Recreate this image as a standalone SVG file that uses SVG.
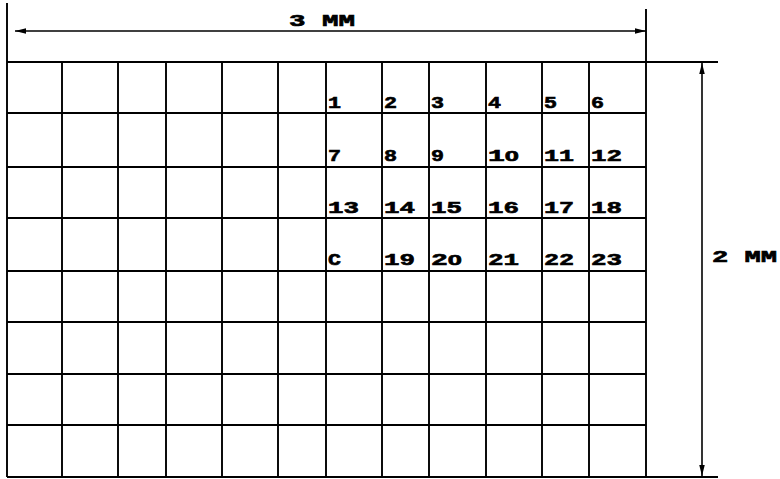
<svg xmlns="http://www.w3.org/2000/svg" width="780" height="479" viewBox="0 0 780 479">
<defs>
<style>
.g{stroke:#000;stroke-width:1.9;fill:none}
.d{stroke:#000;stroke-width:1.6;fill:none}
.t{font-family:"Liberation Mono","Courier New",monospace;font-weight:bold;font-size:16px;fill:#000;stroke:#000;stroke-width:0.6}
.z{font-family:"Liberation Sans",Arial,sans-serif;font-size:14.5px}
</style>
<marker id="ah" markerUnits="userSpaceOnUse" markerWidth="12" markerHeight="6" refX="11" refY="2.75" orient="auto-start-reverse">
<path d="M0,0 L11,2.75 L0,5.5 z" fill="#000"/>
</marker>
</defs>
<rect width="780" height="479" fill="#fff"/>
<g id="grid" class="g">
<path d="M7,3 V477 M62,62 V477 M118,62 V477 M166,62 V477 M222,62 V477 M278,62 V477 M326,62 V477 M382,62 V477 M429,62 V477 M486,62 V477 M542,62 V477 M589,62 V477 M646,9 V477"/>
<path d="M7,62 H718 M7,113 H646 M7,167 H646 M7,218 H646 M7,271 H646 M7,322 H646 M7,374 H646 M7,425 H646 M7,477 H718"/>
</g>
<g id="connectors" class="d">
<line x1="15" y1="31" x2="646" y2="31" marker-start="url(#ah)" marker-end="url(#ah)"/>
<line x1="702" y1="63" x2="702" y2="476" marker-start="url(#ah)" marker-end="url(#ah)"/>
</g>
<g id="dim-width"><text class="t" x="289" y="26" textLength="66" lengthAdjust="spacingAndGlyphs">3 MM</text></g>
<g id="dim-height"><text class="t" x="712" y="262" textLength="65" lengthAdjust="spacingAndGlyphs">2 MM</text></g>
<g id="labels" class="t">
<text x="328" y="108" textLength="13" lengthAdjust="spacingAndGlyphs">1</text>
<text x="384" y="108" textLength="13" lengthAdjust="spacingAndGlyphs">2</text>
<text x="431" y="108" textLength="13" lengthAdjust="spacingAndGlyphs">3</text>
<text x="488" y="108" textLength="13" lengthAdjust="spacingAndGlyphs">4</text>
<text x="544" y="108" textLength="13" lengthAdjust="spacingAndGlyphs">5</text>
<text x="591" y="108" textLength="13" lengthAdjust="spacingAndGlyphs">6</text>
<text x="328" y="161" textLength="13" lengthAdjust="spacingAndGlyphs">7</text>
<text x="384" y="161" textLength="13" lengthAdjust="spacingAndGlyphs">8</text>
<text x="431" y="161" textLength="13" lengthAdjust="spacingAndGlyphs">9</text>
<text x="488" y="161" textLength="31" lengthAdjust="spacingAndGlyphs">1<tspan class="z">0</tspan></text>
<text x="544" y="161" textLength="30" lengthAdjust="spacingAndGlyphs">11</text>
<text x="591" y="161" textLength="31" lengthAdjust="spacingAndGlyphs">12</text>
<text x="328" y="213" textLength="31" lengthAdjust="spacingAndGlyphs">13</text>
<text x="384" y="213" textLength="31" lengthAdjust="spacingAndGlyphs">14</text>
<text x="431" y="213" textLength="31" lengthAdjust="spacingAndGlyphs">15</text>
<text x="488" y="213" textLength="31" lengthAdjust="spacingAndGlyphs">16</text>
<text x="544" y="213" textLength="30" lengthAdjust="spacingAndGlyphs">17</text>
<text x="591" y="213" textLength="31" lengthAdjust="spacingAndGlyphs">18</text>
<text x="328" y="265" textLength="13" lengthAdjust="spacingAndGlyphs">C</text>
<text x="384" y="265" textLength="31" lengthAdjust="spacingAndGlyphs">19</text>
<text x="431" y="265" textLength="31" lengthAdjust="spacingAndGlyphs">2<tspan class="z">0</tspan></text>
<text x="488" y="265" textLength="31" lengthAdjust="spacingAndGlyphs">21</text>
<text x="544" y="265" textLength="30" lengthAdjust="spacingAndGlyphs">22</text>
<text x="591" y="265" textLength="31" lengthAdjust="spacingAndGlyphs">23</text>
</g>
</svg>
